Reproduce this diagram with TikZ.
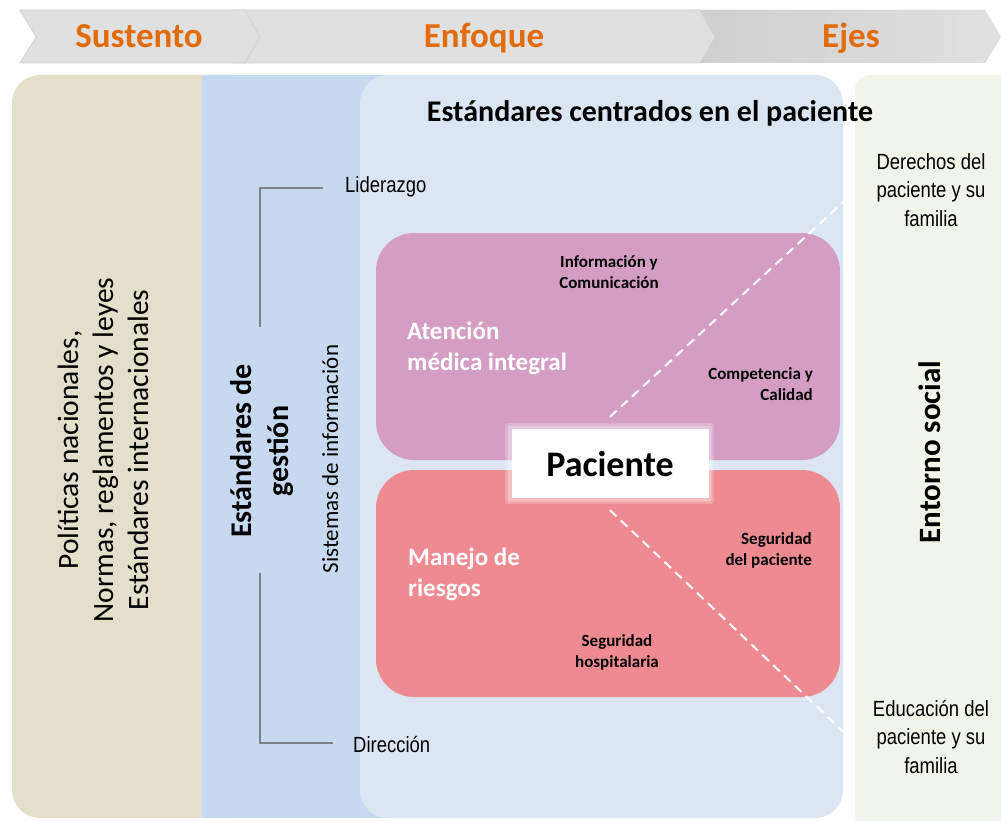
\documentclass[tikz,border=0pt]{standalone}
\usepackage{fontspec}
\setmainfont{Carlito}
\newfontfamily\narrowfont[FakeStretch=0.84]{Liberation Sans}
\usetikzlibrary{calc}
\definecolor{beige}{HTML}{E3DFCB}
\definecolor{gestblue}{HTML}{C6D9F0}
\definecolor{patblue}{HTML}{DCE6F3}
\definecolor{socgreen}{HTML}{F1F4E9}
\definecolor{pinkbox}{HTML}{D49EC3}
\definecolor{redbox}{HTML}{EE8B91}
\definecolor{chevgray}{HTML}{E0E0E0}
\definecolor{chevdark}{HTML}{CFCFCF}
\definecolor{chevedge}{HTML}{D2D2D2}
\definecolor{orangeT}{HTML}{E36C0A}
\definecolor{brgray}{HTML}{808080}
\begin{document}
\begin{tikzpicture}[x=1pt,y=-1pt,
  chev/.style={fill=chevgray, draw=chevedge, line width=0.8pt, line join=round},
  headtxt/.style={text=orangeT, font=\bfseries\fontsize{35}{40}\selectfont, anchor=base, inner sep=0pt},
  smallbold/.style={font=\bfseries\fontsize{17}{21}\selectfont, inner sep=0pt},
  whitebold/.style={text=white, font=\bfseries\fontsize{25}{31}\selectfont, align=left, inner sep=0pt, anchor=west},
  narrowtxt/.style={font=\narrowfont\fontsize{22}{28.5}\selectfont, align=center, inner sep=0pt},
  bracket/.style={draw=brgray, line width=2pt},
  axisline/.style={draw=white, line width=2pt, dash pattern=on 9pt off 6pt}]
\useasboundingbox (0,0) rectangle (1001,821);
\fill[white] (0,0) rectangle (1001,821);
% header chevrons
\path[chev, draw=none, left color=chevdark, right color=chevgray] (690,10) -- (985,10) -- (1001,37) -- (985,63) -- (690,63) -- cycle;
\path[chev] (232,10) -- (700,10) -- (715,37) -- (700,63) -- (232,63) -- (247,37) -- cycle;
\path[chev] (20,10) -- (245,10) -- (260,37) -- (245,63) -- (20,63) -- (36,37) -- cycle;
\node[headtxt] (sus) at (139,48) {Sustento};
\node[headtxt] (enf) at (484,48) {Enfoque};
\node[headtxt] (eje) at (851,48) {Ejes};
% panels
\begin{scope}
\clip (0,0) rectangle (1001,821);
\fill[beige, rounded corners=28pt] (12,75) rectangle (260,818);
\fill[gestblue] (202,75) rectangle (420,818);
\fill[patblue, rounded corners=28pt] (360,75) rectangle (843,818);
\fill[socgreen, rounded corners=15pt] (855,75) rectangle (1040,860);
\end{scope}
% pink and red boxes
\fill[pinkbox, rounded corners=38pt] (376,233) rectangle (840,460);
\fill[redbox, rounded corners=38pt] (376,470) rectangle (840,697);
% paciente (soft edge)
\fill[white, opacity=0.2, rounded corners=3pt] (505,423) rectangle (714,504);
\fill[white, opacity=0.3, rounded corners=2pt] (507.5,425.5) rectangle (711.5,501.5);
\node[fill=white, inner sep=0pt, minimum width=197pt, minimum height=69pt,
      font=\bfseries\fontsize{36}{42}\selectfont] (pac) at (610,463.5) {Paciente};
% axes (dashed)
\coordinate (derEnd) at (853,193);
\coordinate (eduEnd) at (850,738);
\draw[axisline] ($(pac.north)+(0,-12)$) -- (derEnd);
\draw[axisline] ($(pac.south)+(0,12)$) -- (eduEnd);
% texts left panel
\node[rotate=90, align=center, inner sep=0pt, font=\fontsize{29.5}{35}\selectfont] (pol) at (103,450)
  {Políticas nacionales,\\Normas, reglamentos y leyes\\Estándares internacionales};
\node[rotate=90, align=center, inner sep=0pt, font=\bfseries\fontsize{30}{37}\selectfont] (gest) at (262,451)
  {Estándares de\\gestión};
\node[rotate=90, anchor=base, inner sep=0pt, font=\fontsize{23}{26}\selectfont] (sis) at (338,459)
  {Sistemas de información};
% bracket
\node[anchor=base west, inner sep=0pt, font=\narrowfont\fontsize{22}{26}\selectfont] (lid) at (345,193) {Liderazgo};
\node[anchor=base west, inner sep=0pt, font=\narrowfont\fontsize{22}{26}\selectfont] (dir) at (353,752) {Dirección};
\coordinate (b1) at (323,188);
\coordinate (b2) at (260,327);
\coordinate (b3) at (260,573);
\coordinate (b4) at (333,743);
\draw[bracket] (b1) -| (b2);
\draw[bracket] (b3) |- (b4);
% title
\node[anchor=base, inner sep=0pt, font=\bfseries\fontsize{30}{34}\selectfont] (tit) at (650,122)
  {Estándares centrados en el paciente};
% inner labels
\node[smallbold, align=center] (info) at (609,272) {Información y\\Comunicación};
\node[smallbold, align=right, anchor=east] (comp) at (813,384) {Competencia y\\Calidad};
\node[smallbold, align=right, anchor=east] (segp) at (812,550) {Seguridad\\del paciente};
\node[smallbold, align=center] (segh) at (617,652) {Seguridad\\hospitalaria};
\node[whitebold] (aten) at (407,348) {Atención\\médica integral};
\node[whitebold] (mane) at (408,574) {Manejo de\\riesgos};
% right panel
\node[narrowtxt] (der) at (931,190) {Derechos del\\paciente y su\\familia};
\node[narrowtxt] (edu) at (931,737) {Educación del\\paciente y su\\familia};
\node[rotate=90, anchor=base, inner sep=0pt, font=\bfseries\fontsize{31}{34}\selectfont] (ent) at (940,452)
  {Entorno social};
\end{tikzpicture}
\end{document}
